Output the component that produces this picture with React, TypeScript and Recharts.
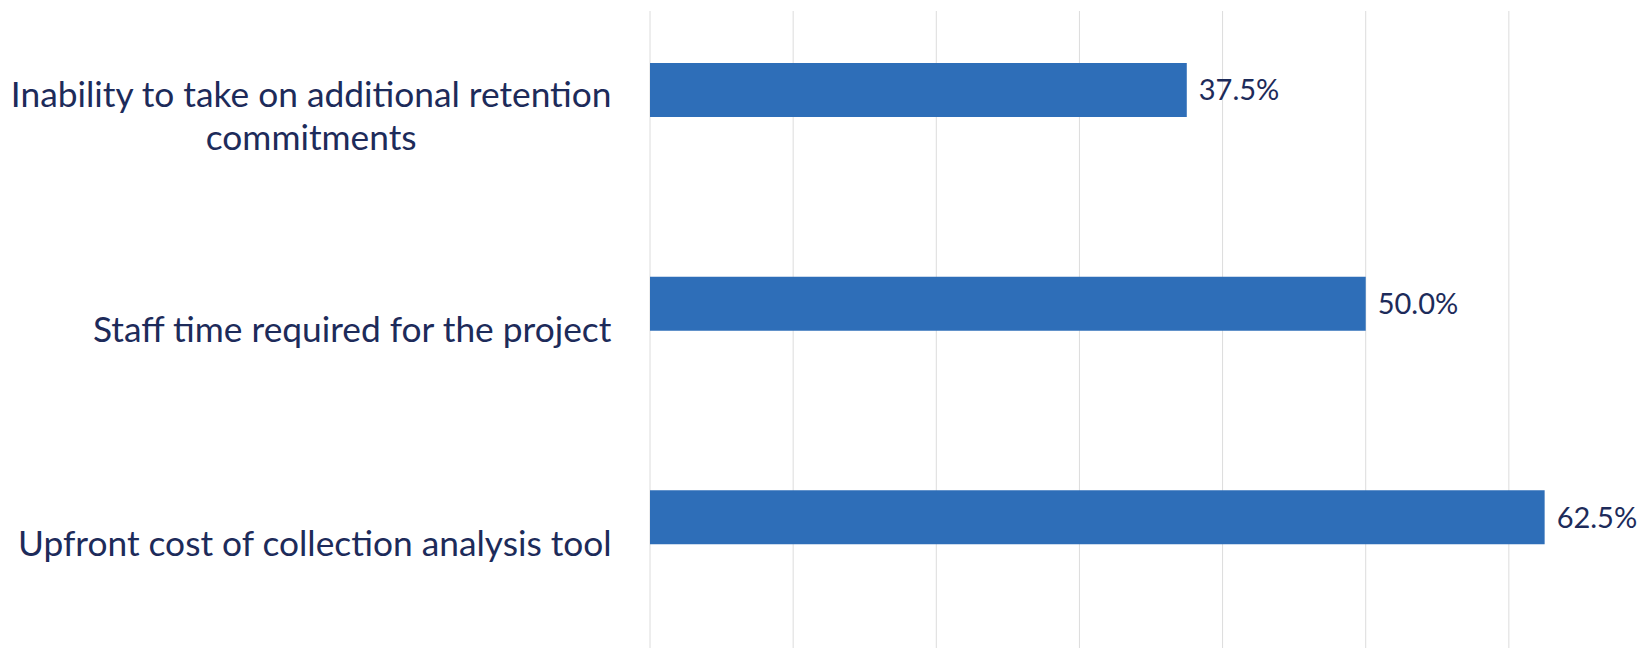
import React from 'react';
import { BarChart, Bar, XAxis, YAxis, CartesianGrid, LabelList } from 'recharts';

const categories = [
  'Inability to take on additional retention commitments',
  'Staff time required for the project',
  'Upfront cost of collection analysis tool',
];
const shares = [37.5, 50.0, 62.5];
const xTicks = [0, 10, 20, 30, 40, 50, 60, 70];

const data = categories.map((name, i) => ({ name, value: shares[i] }));

const TEXT = '#1d2b5a';
const BAR = '#2e6eb8';
const FONT = 'Lato, "Open Sans", sans-serif';
const LABEL_SIZE = 35.3;
const LINE_H = 43;
const LABEL_RIGHT = 612;
const LABEL_MAX = 640;

let ctx: CanvasRenderingContext2D | null = null;
const measure = (s: string) => {
  if (!ctx) ctx = document.createElement('canvas').getContext('2d');
  if (!ctx) return s.length * LABEL_SIZE * 0.5;
  ctx.font = `${LABEL_SIZE}px ${FONT}`;
  return ctx.measureText(s).width;
};

const wrap = (s: string) => {
  const words = s.split(' ');
  const lines: string[] = [];
  let cur = '';
  words.forEach((w) => {
    const next = cur ? cur + ' ' + w : w;
    if (cur && measure(next) > LABEL_MAX) {
      lines.push(cur);
      cur = w;
    } else {
      cur = next;
    }
  });
  if (cur) lines.push(cur);
  return lines;
};

// labels sit a little below the bar centre, centred lines, block right-aligned
const CategoryTick = ({ y, payload }: any) => {
  const lines = wrap(String(payload.value));
  const blockW = Math.max(...lines.map(measure));
  const cx = LABEL_RIGHT - blockW / 2;
  const top = y + 25 - ((lines.length - 1) * LINE_H) / 2;
  return (
    <g>
      {lines.map((ln, i) => (
        <text
          key={i}
          x={cx}
          y={top + i * LINE_H}
          textAnchor="middle"
          dominantBaseline="central"
          fill={TEXT}
          fontSize={LABEL_SIZE}
          fontFamily={FONT}
        >
          {ln}
        </text>
      ))}
    </g>
  );
};

export default function App() {
  return (
    <div
      style={{
        position: 'fixed',
        left: 0,
        top: 0,
        width: 1646,
        height: 648,
        overflow: 'hidden',
        background: '#fff',
      }}
    >
      <BarChart
        layout="vertical"
        width={1652}
        height={648}
        data={data}
        margin={{ top: 11, right: 0, left: 0, bottom: 0 }}
      >
        <CartesianGrid horizontal={false} stroke="#dcdcdc" />
        <XAxis type="number" domain={[0, 70]} ticks={xTicks} hide />
        <YAxis
          type="category"
          dataKey="name"
          width={650}
          axisLine={false}
          tickLine={false}
          padding={{ top: -28, bottom: 24 }}
          tick={<CategoryTick />}
          interval={0}
        />
        <Bar dataKey="value" fill={BAR} barSize={54} isAnimationActive={false}>
          <LabelList
            dataKey="value"
            position="right"
            offset={12}
            fill={TEXT}
            fontSize={29}
            fontFamily={FONT}
            formatter={(v: any) => `${Number(v).toFixed(1)}%`}
          />
        </Bar>
      </BarChart>
    </div>
  );
}
